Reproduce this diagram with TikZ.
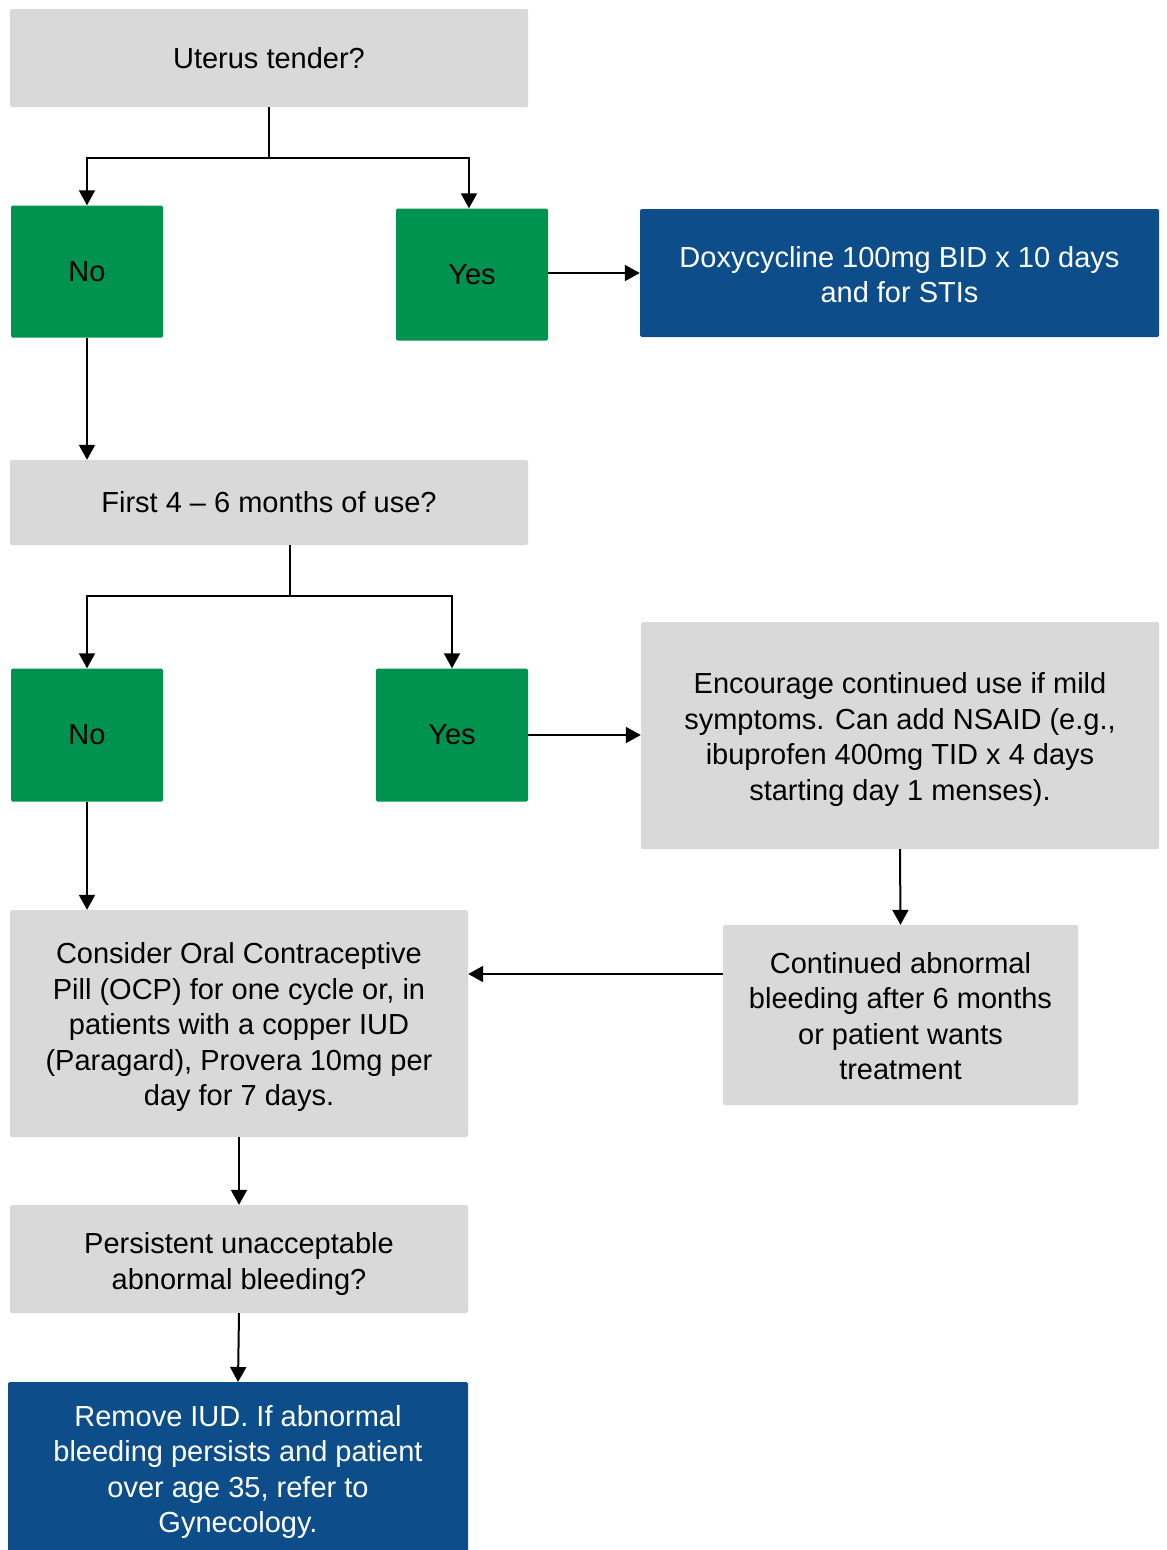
\documentclass[tikz,border=0pt]{standalone}
\usepackage{fontspec}
\setmainfont{Liberation Sans}
\usetikzlibrary{arrows.meta}
\definecolor{boxgray}{RGB}{217,217,217}
\definecolor{boxgreen}{RGB}{0,146,79}
\definecolor{boxblue}{RGB}{13,78,138}
\tikzset{
  base/.style={inner sep=0pt, align=center, rounded corners=1.5pt,
    font=\fontsize{29}{35.5}\selectfont},
  graybox/.style={base, fill=boxgray, text=black},
  greenbox/.style={base, fill=boxgreen, text=black},
  bluebox/.style={base, fill=boxblue, text=white},
  txt/.style={base, text=black},
  wtxt/.style={base, text=white},
  link/.style={line width=2pt, draw=black},
  arr/.style={link, -{Triangle[length=15pt,width=16pt]}}
}
\begin{document}
\begin{tikzpicture}[x=1pt,y=-1pt]
\useasboundingbox (0,0) rectangle (1167,1550);
% question and answer boxes
\node[graybox, minimum width=518, minimum height=98] (ut) at (269,58) {Uterus tender?};
\node[greenbox, minimum width=152, minimum height=132] (no1) at (87,271.5) {No};
\node[greenbox, minimum width=152, minimum height=132] (yes1) at (472,274.5) {Yes};
\node[bluebox, minimum width=519, minimum height=128] (doxy) at (899.5,273) {};
\node[wtxt] (doxy-t) at (899.5,274.5) {Doxycycline 100mg BID x 10 days\\and for STIs};
\node[graybox, minimum width=518, minimum height=85] (first) at (269,502.5) {First 4 -- 6 months of use?};
\node[greenbox, minimum width=152, minimum height=133] (no2) at (87,735) {No};
\node[greenbox, minimum width=152, minimum height=133] (yes2) at (452,735) {Yes};
\node[graybox, minimum width=518, minimum height=227] (enc) at (900,735.5) {};
\node[txt] (enc-t) at (900,739.5) {Encourage continued use if mild\\symptoms. Can add NSAID (e.g.,\\ibuprofen 400mg TID x 4 days\\starting day 1 menses).};
\node[graybox, minimum width=355, minimum height=180] (cont) at (900.5,1015) {};
\node[txt] (cont-t) at (900.5,1016) {Continued abnormal\\bleeding after 6 months\\or patient wants\\treatment};
\node[graybox, minimum width=458, minimum height=227] (cons) at (239,1023.5) {};
\node[txt] (cons-t) at (239,1027) {Consider Oral Contraceptive\\Pill (OCP) for one cycle or, in\\patients with a copper IUD\\(Paragard), Provera 10mg per\\day for 7 days.};
\node[graybox, minimum width=458, minimum height=108] (pers) at (239,1259) {};
\node[txt] (pers-t) at (239,1264) {Persistent unacceptable\\abnormal bleeding?};
\fill[boxblue, rounded corners=1.5pt] (8,1382) rectangle (468,1556);
\node[wtxt] (rem) at (238,1472) {Remove IUD. If abnormal\\bleeding persists and patient\\over age 35, refer to\\Gynecology.};
\coordinate (remtop) at (238,1382);
% connectors
\coordinate (j1) at (269,158);
\draw[link] (ut.south) -- (j1);
\draw[arr] (j1) -| (no1.north);
\draw[arr] (j1) -| ([xshift=-3pt]yes1.north);
\draw[arr] (yes1.east |- doxy.west) -- (doxy.west);
\draw[arr] (no1.south) -- (no1.south |- first.north);
\coordinate (j2) at (290,596);
\draw[link] (first.south -| j2) -- (j2);
\draw[arr] (j2) -| (no2.north);
\draw[arr] (j2) -| (yes2.north);
\draw[arr] (yes2.east) -- (yes2.east -| enc.west);
\draw[arr] (no2.south) -- (no2.south |- cons.north);
\draw[arr] (enc.south) -- (cont.north);
\coordinate (j3) at (600,974);
\draw[arr] (cont.west |- j3) -- (cons.east |- j3);
\draw[arr] (cons.south) -- (pers.north);
\draw[arr] (pers.south) -- (remtop);
\end{tikzpicture}
\end{document}
